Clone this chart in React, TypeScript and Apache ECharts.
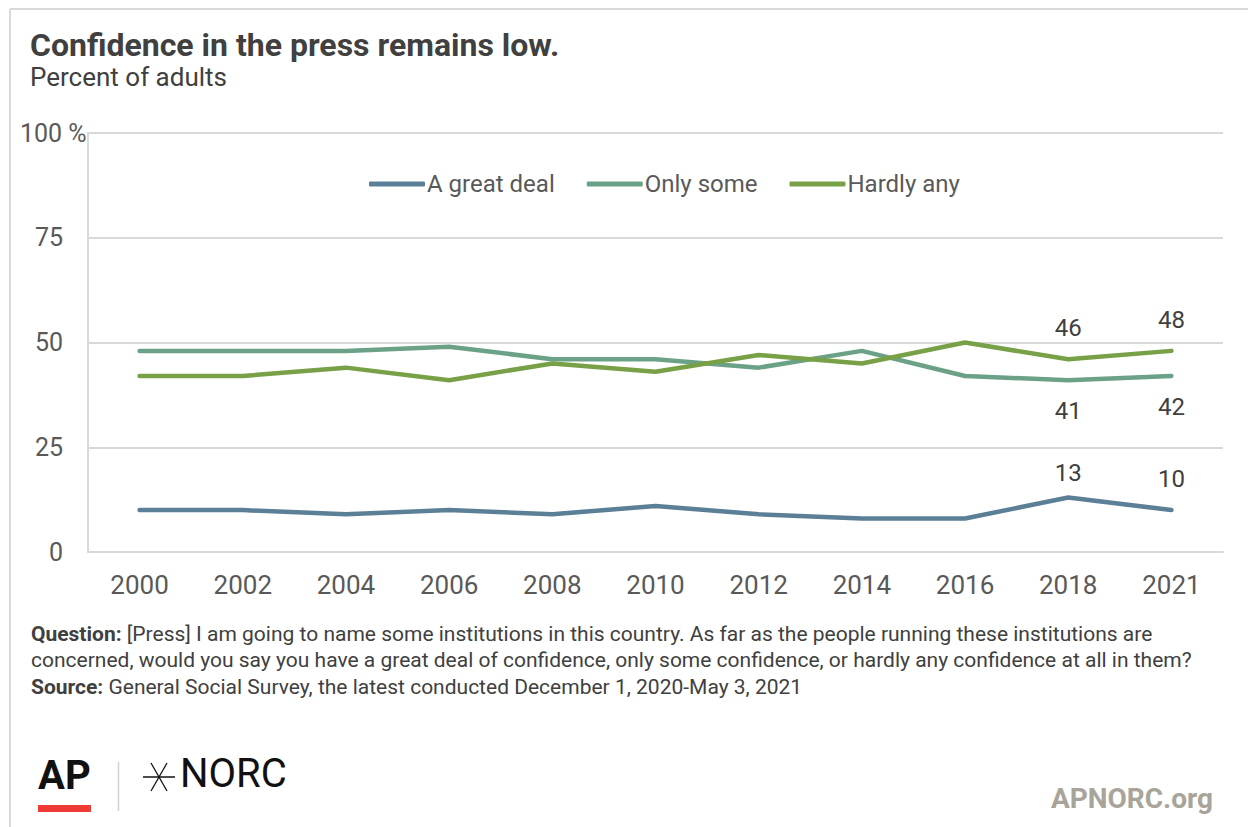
import React, { useEffect, useRef } from "react";
import * as echarts from "echarts";

const years = ["2000", "2002", "2004", "2006", "2008", "2010", "2012", "2014", "2016", "2018", "2021"];
const greatDeal = [10, 10, 9, 10, 9, 11, 9, 8, 8, 13, 10];
const onlySome = [48, 48, 48, 49, 46, 46, 44, 48, 42, 41, 42];
const hardlyAny = [42, 42, 44, 41, 45, 43, 47, 45, 50, 46, 48];
const seriesNames = ["A great deal", "Only some", "Hardly any"];
const colors = ["#5A7F97", "#6BA287", "#77A047"];
const yTicks = [0, 25, 50, 75, 100];

const titleText = "Confidence in the press remains low.";
const subtitleText = "Percent of adults";
const footerLines = [
  ["Question:", " [Press] I am going to name some institutions in this country. As far as the people running these institutions are"],
  ["", "concerned, would you say you have a great deal of confidence, only some confidence, or hardly any confidence at all in them?"],
  ["Source:", " General Social Survey, the latest conducted December 1, 2020-May 3, 2021"],
];

const FONT = "Roboto, 'Noto Sans', sans-serif";

export default function App() {
  const ref = useRef<HTMLDivElement>(null);
  useEffect(() => {
    if (!ref.current) return;
    const chart = echarts.init(ref.current, undefined, { renderer: "svg" });
    const dataSets = [greatDeal, onlySome, hardlyAny];
    const labelPos = ["top", "bottom", "top"];
    const series = dataSets.map((d, i) => ({
      name: seriesNames[i],
      type: "line",
      data: d.map((v, j) =>
        i === 0 && j === years.length - 2 ? { value: v, label: { distance: 12 } } : v
      ),
      symbol: "circle",
      symbolSize: 0.1,
      showSymbol: true,
      lineStyle: { width: 4.5, color: colors[i], cap: "round", join: "round" },
      itemStyle: { color: colors[i] },
      label: {
        show: true,
        position: labelPos[i],
        distance: 19,
        fontFamily: FONT,
        fontSize: 24,
        color: "#404040",
        formatter: (p: any) => (p.dataIndex >= years.length - 2 ? String(p.value) : ""),
      },
    }));

    const footerGraphics: any[] = [];
    footerLines.forEach((ln, i) => {
      footerGraphics.push({
        type: "text",
        left: 31,
        top: 623 + i * 26.5,
        style: {
          text: ln[0] ? `{b|${ln[0]}}{r|${ln[1]}}` : `{r|${ln[1]}}`,
          rich: {
            b: { fontFamily: FONT, fontSize: 21, fontWeight: "bold", fill: "#404040" },
            r: { fontFamily: FONT, fontSize: 21, fill: "#404040" },
          },
          fill: "#404040",
          font: `21px ${FONT}`,
        },
      });
    });

    chart.setOption({
      animation: false,
      backgroundColor: "#ffffff",
      title: [
        {
          text: titleText,
          left: 25,
          top: 24,
          textStyle: { fontFamily: FONT, fontSize: 32, fontWeight: "bold", color: "#404040" },
        },
        {
          text: subtitleText,
          left: 25,
          top: 59,
          textStyle: { fontFamily: FONT, fontSize: 26, fontWeight: "normal", color: "#404040" },
        },
      ],
      legend: {
        data: seriesNames,
        left: 364,
        top: 167,
        icon: "roundRect",
        itemWidth: 56,
        itemHeight: 5,
        itemGap: 32,
        textStyle: { fontFamily: FONT, fontSize: 24, color: "#595959", padding: [0, 0, 0, -3] },
      },
      grid: { left: 88, right: 25, top: 133, bottom: 275, containLabel: false },
      xAxis: {
        type: "category",
        data: years,
        boundaryGap: true,
        axisLine: { show: true, lineStyle: { color: "#d9d9d9", width: 2 } },
        axisTick: { show: false },
        axisLabel: { fontFamily: FONT, fontSize: 26, color: "#595959", margin: 20 },
      },
      yAxis: {
        type: "value",
        min: yTicks[0],
        max: yTicks[yTicks.length - 1],
        interval: 25,
        axisLine: { show: true, lineStyle: { color: "#d9d9d9", width: 2 } },
        axisTick: { show: false },
        splitLine: { lineStyle: { color: "#d9d9d9", width: 2 } },
        axisLabel: {
          fontFamily: FONT,
          fontSize: 25,
          color: "#595959",
          margin: 25,
          formatter: (v: number) => (v === 100 ? "{a|100 %}" : String(v)),
          rich: {
            a: { fontFamily: FONT, fontSize: 25, color: "#595959", width: 43, align: "left" },
          },
        },
      },
      series,
      graphic: [
        { type: "line", shape: { x1: 10, y1: 9, x2: 1248, y2: 9 }, style: { stroke: "#d9d9d9", lineWidth: 2 } },
        { type: "line", shape: { x1: 10, y1: 9, x2: 10, y2: 827 }, style: { stroke: "#d9d9d9", lineWidth: 2 } },
        ...footerGraphics,
        {
          type: "text",
          left: 38,
          top: 755,
          style: { text: "AP", font: `bold 40px ${FONT}`, fill: "#111111" },
        },
        { type: "rect", shape: { x: 38, y: 805, width: 53, height: 7 }, style: { fill: "#F03A35" } },
        { type: "line", shape: { x1: 118.5, y1: 762, x2: 118.5, y2: 811 }, style: { stroke: "#d0d0d0", lineWidth: 1.5 } },
        { type: "line", shape: { x1: 143, y1: 777, x2: 175, y2: 777 }, style: { stroke: "#111111", lineWidth: 1.5 } },
        { type: "line", shape: { x1: 151, y1: 763, x2: 167, y2: 791 }, style: { stroke: "#111111", lineWidth: 1.3 } },
        { type: "line", shape: { x1: 167, y1: 763, x2: 151, y2: 791 }, style: { stroke: "#111111", lineWidth: 1.3 } },
        {
          type: "text",
          left: 180,
          top: 753,
          style: { text: "NORC", font: `40px ${FONT}`, fill: "#111111" },
        },
        {
          type: "text",
          right: 35,
          top: 784,
          style: { text: "APNORC.org", font: `bold 28px ${FONT}`, fill: "#A8A49A" },
        },
      ],
    });
    return () => chart.dispose();
  }, []);
  return (
    <div
      ref={ref}
      style={{ position: "fixed", left: 0, top: 0, width: 1248, height: 827, background: "#fff" }}
    />
  );
}
